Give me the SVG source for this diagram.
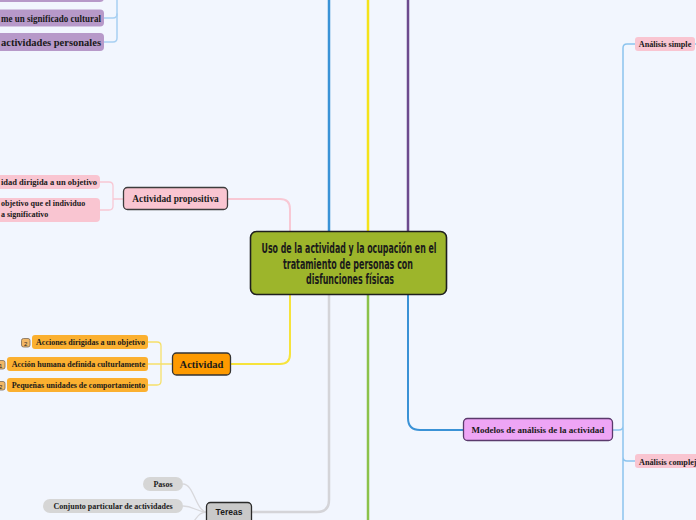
<svg xmlns="http://www.w3.org/2000/svg" width="696" height="520" viewBox="0 0 696 520">
<style>
.t{font-family:"Liberation Serif","Times New Roman",serif;font-weight:bold;fill:#1a1a1a}
.c{fill:none;stroke-linecap:round}
.main{font-family:"DejaVu Sans Condensed","Liberation Sans Narrow","Liberation Sans",sans-serif;font-weight:bold;font-size:13.5px;fill:#1a1a1a}
.b{font-family:"Liberation Sans",Arial,sans-serif;font-size:6px;fill:#222}
</style>
<rect width="696" height="520" fill="#f2f6fe"/>
<g id="connectors">
  <path class="c" d="M329,0 V231" stroke="#3a92d6" stroke-width="2.5"/>
  <path class="c" d="M368,0 V231" stroke="#f4e31a" stroke-width="2.5"/>
  <path class="c" d="M408,0 V231" stroke="#6c4a8e" stroke-width="2.5"/>
  <path class="c" d="M368,295 V520" stroke="#8cc24a" stroke-width="2.5"/>
  <path class="c" d="M329,295 V500 Q329,512 317,512 H252" stroke="#d4d4d8" stroke-width="2.5"/>
  <path class="c" d="M408,295 V418 Q408,430 420,430 H463" stroke="#3a92d6" stroke-width="2"/>
  <path class="c" d="M290,231 V209 Q290,199 280,199 H228" stroke="#f8c8d4" stroke-width="2"/>
  <path class="c" d="M290,295 V354 Q290,364 280,364 H231" stroke="#f6e33c" stroke-width="2"/>
  <path class="c" d="M117,0 V38 Q117,42 113,42 H104" stroke="#a8d0f2" stroke-width="1.5"/>
  <path class="c" d="M104,18 H113 Q117,18 117,14" stroke="#a8d0f2" stroke-width="1.5"/>
  <path class="c" d="M123,199 H113 M100,182 H109 Q113,182 113,186 V206 Q113,210 109,210 H100" stroke="#f8c8d4" stroke-width="1.3"/>
  <path class="c" d="M172,364 H161 M148,342 H157 Q161,342 161,346 V381 Q161,385 157,385 H148 M148,364 H161" stroke="#f6e06a" stroke-width="1.3"/>
  <path class="c" d="M207,512 C196,512 194,484 183,484 M207,512 C196,512 194,506 183,506 M207,512 C200,512 198,516 194,521" stroke="#d8d8dc" stroke-width="1.3"/>
  <path class="c" d="M613,430 H619 Q623,430 623,426 M623,520 V48 Q623,44 627,44 H635 M623,457 Q623,461 627,461 H635 M695,44 H696" stroke="#8cc4ee" stroke-width="1.5"/>
</g>
<g id="central">
  <rect x="250.5" y="231.5" width="196" height="63" rx="6" fill="#9db52b" stroke="#1e1e1e" stroke-width="1.6"/>
  <text class="main" x="349" y="253" text-anchor="middle" textLength="175" lengthAdjust="spacingAndGlyphs">Uso de la actividad y la ocupación en el</text>
  <text class="main" x="348" y="268.5" text-anchor="middle" textLength="130" lengthAdjust="spacingAndGlyphs">tratamiento de personas con</text>
  <text class="main" x="350" y="284" text-anchor="middle" textLength="88" lengthAdjust="spacingAndGlyphs">disfunciones físicas</text>
</g>
<g id="purple-top">
  <rect x="-10" y="-16" width="114" height="18" rx="4" fill="#b799c9"/>
</g>
<g id="purple-cultural">
  <rect x="-10" y="9.5" width="114" height="17" rx="4" fill="#b799c9"/>
  <text class="t" x="1" y="21.5" font-size="10" textLength="100" lengthAdjust="spacingAndGlyphs">me un significado cultural</text>
</g>
<g id="purple-personales">
  <rect x="-10" y="33" width="114" height="18" rx="4" fill="#b799c9"/>
  <text class="t" x="1" y="45.5" font-size="10.3" textLength="100" lengthAdjust="spacingAndGlyphs">actividades personales</text>
</g>
<g id="actividad-propositiva">
  <rect x="123.5" y="187.5" width="104" height="22" rx="4" fill="#f9c5d1" stroke="#3c3c3c" stroke-width="1.3"/>
  <text class="t" x="175.5" y="202" font-size="9.4" text-anchor="middle">Actividad propositiva</text>
</g>
<g id="ap-dirigida">
  <rect x="-10" y="175" width="110" height="14" rx="4" fill="#f9c5d1"/>
  <text class="t" x="1" y="185" font-size="8" textLength="96" lengthAdjust="spacingAndGlyphs">idad dirigida a un objetivo</text>
</g>
<g id="ap-objetivo">
  <rect x="-10" y="198" width="110" height="24" rx="4" fill="#f9c5d1"/>
  <text class="t" x="1" y="206" font-size="8">objetivo que el individuo</text>
  <text class="t" x="1" y="217" font-size="8">a significativo</text>
</g>
<g id="actividad">
  <rect x="172.5" y="353" width="58" height="22" rx="4" fill="#fe9a00" stroke="#333" stroke-width="1.3"/>
  <text class="t" x="201.5" y="368" font-size="10.5" text-anchor="middle">Actividad</text>
</g>
<g id="act-acciones">
  <rect x="32" y="335" width="116" height="14" rx="3" fill="#fbb030"/>
  <text class="t" x="90.5" y="345" font-size="8" text-anchor="middle">Acciones dirigidas a un objetivo</text>
  <rect x="21.5" y="338.5" width="8.5" height="8.5" rx="2" fill="#f2b766" stroke="#7a6a58" stroke-width="0.8"/>
  <text class="b" x="25.75" y="345.5" text-anchor="middle">2</text>
</g>
<g id="act-accion">
  <rect x="7" y="357" width="141" height="14" rx="3" fill="#fbb030"/>
  <text class="t" x="78.5" y="367" font-size="8" text-anchor="middle">Acción humana definida culturlamente</text>
  <rect x="-3.5" y="360.5" width="8.5" height="8.5" rx="2" fill="#f2b766" stroke="#7a6a58" stroke-width="0.8"/>
  <text class="b" x="0.75" y="367.5" text-anchor="middle">1</text>
</g>
<g id="act-pequenas">
  <rect x="7" y="378" width="141" height="14" rx="3" fill="#fbb030"/>
  <text class="t" x="78.5" y="388" font-size="8" text-anchor="middle">Pequeñas unidades de comportamiento</text>
  <rect x="-3.5" y="381.5" width="8.5" height="8.5" rx="2" fill="#f2b766" stroke="#7a6a58" stroke-width="0.8"/>
  <text class="b" x="0.75" y="388.5" text-anchor="middle">2</text>
</g>
<g id="tereas">
  <rect x="206.5" y="502.5" width="45" height="26" rx="4" fill="#c9c9c9" stroke="#2a2a2a" stroke-width="1.3"/>
  <text x="229" y="515" font-size="8.5" text-anchor="middle" font-family="Liberation Sans, Arial, sans-serif" font-weight="bold" fill="#1a1a1a">Tereas</text>
</g>
<g id="pasos">
  <rect x="143" y="477" width="40" height="14" rx="7" fill="#d6d6d6"/>
  <text class="t" x="163" y="487" font-size="8" text-anchor="middle">Pasos</text>
</g>
<g id="conjunto">
  <rect x="43" y="499" width="140" height="14" rx="7" fill="#d6d6d6"/>
  <text class="t" x="113" y="509" font-size="8" text-anchor="middle">Conjunto particular de actividades</text>
</g>
<g id="modelos">
  <rect x="463.5" y="418.5" width="149" height="22" rx="4" fill="#eea5f5" stroke="#5a3a6c" stroke-width="1.3"/>
  <text class="t" x="538" y="432.5" font-size="9" text-anchor="middle">Modelos de análisis de la actividad</text>
</g>
<g id="analisis-simple">
  <rect x="635" y="37" width="60" height="14" rx="3" fill="#f9c5d1"/>
  <text class="t" x="665" y="47" font-size="8.2" text-anchor="middle">Análisis simple</text>
</g>
<g id="analisis-complejo">
  <rect x="635" y="454" width="70" height="14" rx="3" fill="#f9c5d1"/>
  <text class="t" x="639" y="464.5" font-size="8.2">Análisis complej</text>
</g>
</svg>
